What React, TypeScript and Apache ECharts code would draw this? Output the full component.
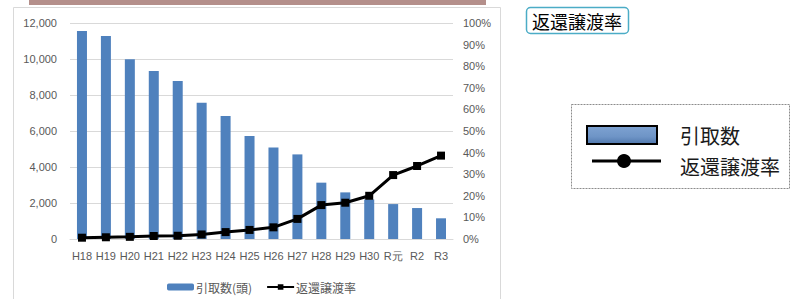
import React, { useEffect, useRef } from "react";
import * as echarts from "echarts";

const categories = ["H18", "H19", "H20", "H21", "H22", "H23", "H24", "H25", "H26", "H27", "H28", "H29", "H30", "R元", "R2", "R3"];
const intakeCounts = [11560, 11280, 9980, 9330, 8780, 7570, 6830, 5720, 5090, 4700, 3130, 2590, 2200, 1940, 1720, 1150];
const returnRates = [0.6, 0.8, 1.0, 1.4, 1.5, 2.1, 3.2, 4.2, 5.4, 9.3, 15.7, 16.8, 20.0, 29.6, 33.8, 38.6];
const barName = "引取数(頭)";
const lineName = "返還譲渡率";
const sideTitle = "返還譲渡率";
const sideLegendBar = "引取数";
const sideLegendLine = "返還譲渡率";

const CJK = "'Noto Sans CJK JP', 'Liberation Sans', sans-serif";
const NUM = "'Liberation Sans', 'Noto Sans', sans-serif";

export default function App() {
  const ref = useRef<HTMLDivElement>(null);
  useEffect(() => {
    if (!ref.current) return;
    const chart = echarts.init(ref.current, null, { renderer: "svg" });
    chart.setOption({
      animation: false,
      backgroundColor: "#ffffff",
      grid: { left: 70, right: 340, top: 23, bottom: 60, containLabel: false },
      legend: {
        left: 162,
        top: 276,
        itemWidth: 27,
        itemHeight: 7,
        itemGap: 14,
        data: [barName, lineName],
        textStyle: { fontFamily: CJK, fontSize: 12, color: "#595959", padding: [0, 0, 0, -3] },
      },
      xAxis: {
        type: "category",
        data: categories,
        axisLine: { show: true, lineStyle: { color: "#d9d9d9", width: 1 } },
        axisTick: { show: false },
        axisLabel: { color: "#595959", fontFamily: NUM, fontSize: 11, margin: 11, interval: 0 },
      },
      yAxis: [
        {
          type: "value",
          min: 0,
          max: 12000,
          interval: 2000,
          axisLine: { show: false },
          axisTick: { show: false },
          splitLine: { lineStyle: { color: "#d9d9d9", width: 1 } },
          axisLabel: {
            color: "#595959",
            fontFamily: NUM,
            fontSize: 11,
            margin: 13,
            formatter: (v: number) => v.toLocaleString("en-US"),
          },
        },
        {
          type: "value",
          min: 0,
          max: 100,
          interval: 10,
          position: "right",
          axisLine: { show: false },
          axisTick: { show: false },
          splitLine: { show: false },
          axisLabel: { color: "#595959", fontFamily: NUM, fontSize: 11, margin: 10, formatter: "{value}%" },
        },
      ],
      series: [
        {
          name: barName,
          type: "bar",
          data: intakeCounts,
          barWidth: 10,
          itemStyle: { color: "#4f81bd" },
          yAxisIndex: 0,
        },
        {
          name: lineName,
          type: "line",
          data: returnRates,
          yAxisIndex: 1,
          symbol: "rect",
          symbolSize: 8,
          lineStyle: { color: "#000000", width: 3 },
          itemStyle: { color: "#000000" },
        },
      ],
      graphic: [
        {
          type: "rect",
          silent: true,
          z: -1,
          shape: { x: 13.5, y: 7.5, width: 487, height: 300 },
          style: { fill: "none", stroke: "#d9d9d9", lineWidth: 1 },
        },
        {
          type: "rect",
          silent: true,
          shape: { x: 29, y: 0, width: 457, height: 5 },
          style: { fill: "#b48f8b" },
        },
        {
          type: "rect",
          silent: true,
          shape: { x: 526.5, y: 7.5, width: 102, height: 26, r: 4 },
          style: { fill: "#ffffff", stroke: "#4bacc6", lineWidth: 1.5 },
        },
        {
          type: "text",
          silent: true,
          style: {
            text: sideTitle,
            x: 577,
            y: 21,
            fill: "#000000",
            fontFamily: CJK,
            fontSize: 18,
            textAlign: "center",
            textVerticalAlign: "middle",
            align: "center",
            verticalAlign: "middle",
          },
        },
        {
          type: "rect",
          silent: true,
          shape: { x: 571.5, y: 104.5, width: 218, height: 84 },
          style: { fill: "#ffffff", stroke: "#8c8c8c", lineWidth: 1, lineDash: [2, 1] },
        },
        {
          type: "rect",
          silent: true,
          shape: { x: 587, y: 126, width: 70, height: 18 },
          style: {
            fill: new echarts.graphic.LinearGradient(0, 0, 0, 1, [
              { offset: 0, color: "#7ea3d2" },
              { offset: 0.6, color: "#6e94c6" },
              { offset: 1, color: "#5078ad" },
            ]),
            stroke: "#000000",
            lineWidth: 2,
          },
        },
        {
          type: "line",
          silent: true,
          shape: { x1: 592, y1: 161, x2: 661, y2: 161 },
          style: { stroke: "#000000", lineWidth: 3 },
        },
        {
          type: "circle",
          silent: true,
          shape: { cx: 624, cy: 161, r: 7 },
          style: { fill: "#000000" },
        },
        {
          type: "text",
          silent: true,
          style: {
            text: sideLegendBar,
            x: 680,
            y: 135,
            fill: "#1a1a1a",
            fontFamily: CJK,
            fontSize: 20,
            textVerticalAlign: "middle",
            verticalAlign: "middle",
          },
        },
        {
          type: "text",
          silent: true,
          style: {
            text: sideLegendLine,
            x: 680,
            y: 166,
            fill: "#1a1a1a",
            fontFamily: CJK,
            fontSize: 20,
            textVerticalAlign: "middle",
            verticalAlign: "middle",
          },
        },
      ],
    });
    return () => chart.dispose();
  }, []);
  return (
    <div
      ref={ref}
      style={{ position: "fixed", left: 0, top: 0, width: 793, height: 299, background: "#ffffff" }}
    />
  );
}
